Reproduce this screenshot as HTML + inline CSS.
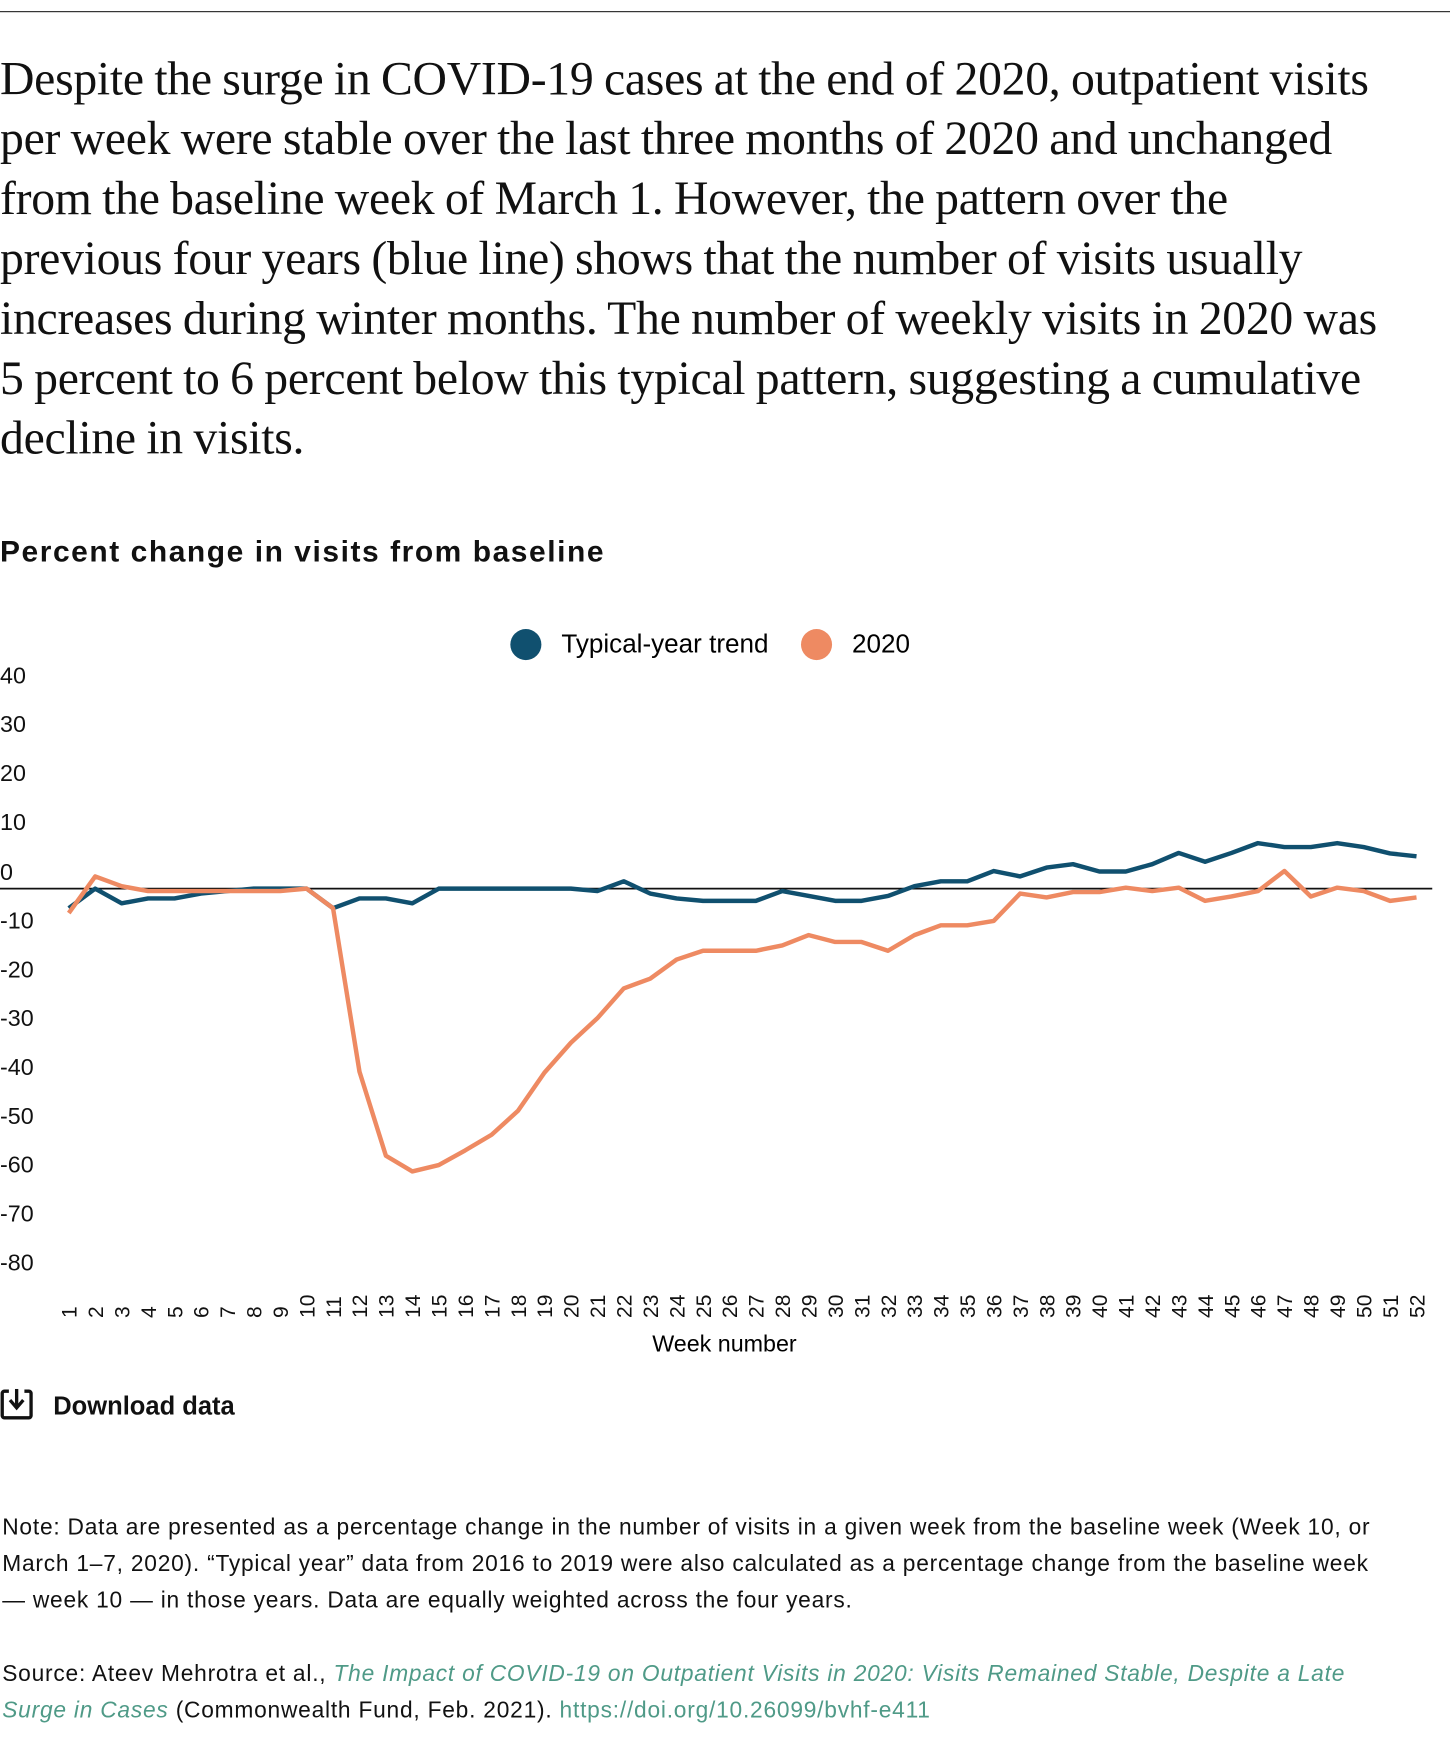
<!DOCTYPE html>
<html><head><meta charset="utf-8"><style>
html,body{margin:0;padding:0;background:#fff;}
#w{width:1307px;height:1568px;transform:scale(1.10941);transform-origin:0 0;position:relative;overflow:hidden;font-family:"Liberation Sans",sans-serif;color:#111;}
.p{position:absolute;left:0;font-family:"Liberation Serif",serif;font-size:43px;letter-spacing:-0.25px;word-spacing:-1px;white-space:nowrap;line-height:54px;}
.t{position:absolute;white-space:nowrap;}
.n{font-size:20.5px;line-height:33px;letter-spacing:0.7px;}
.lk{color:#4f9a87;}
</style></head><body><div id="w">
<div style="position:absolute;left:0;top:10px;width:1307px;height:1px;background:#222"></div>
<div class="p" style="top:45px">Despite the surge in COVID-19 cases at the end of 2020, outpatient visits<br>per week were stable over the last three months of 2020 and unchanged<br>from the baseline week of March 1. However, the pattern over the<br>previous four years (blue line) shows that the number of visits usually<br>increases during winter months. The number of weekly visits in 2020 was<br>5 percent to 6 percent below this typical pattern, suggesting a cumulative<br>decline in visits.</div>
<div class="t" style="left:0;top:482px;font-size:27px;font-weight:bold;letter-spacing:1.4px">Percent change in visits from baseline</div>
<svg style="position:absolute;left:0;top:0" width="1307" height="1568">
<circle cx="474" cy="581" r="14" fill="#10506f"/><text x="506" y="588" font-size="23.5" font-family="Liberation Sans">Typical-year trend</text>
<circle cx="736" cy="581" r="14" fill="#ee8a62"/><text x="768" y="588" font-size="23.5" font-family="Liberation Sans">2020</text>
<g font-size="21" font-family="Liberation Sans" fill="#111">
<text x="0" y="616">40</text><text x="0" y="660">30</text><text x="0" y="704">20</text><text x="0" y="748">10</text><text x="0" y="793">0</text>
<text x="0" y="837">-10</text><text x="0" y="881">-20</text><text x="0" y="925">-30</text><text x="0" y="969">-40</text><text x="0" y="1013">-50</text><text x="0" y="1057">-60</text><text x="0" y="1101">-70</text><text x="0" y="1145">-80</text>
</g>
<line x1="0" y1="801" x2="1291" y2="801" stroke="#111" stroke-width="1.5"/>
<g id="xl" font-size="19" font-family="Liberation Sans" fill="#111"></g>
<text x="653" y="1218" font-size="21" text-anchor="middle" font-family="Liberation Sans">Week number</text>
<polyline id="b" fill="none" stroke="#10506f" stroke-width="4" stroke-linejoin="round"/>
<polyline id="o" fill="none" stroke="#ee8a62" stroke-width="4" stroke-linejoin="round"/>
<rect x="2" y="1254" width="26" height="24" rx="2" fill="none" stroke="#111" stroke-width="3"/>
<rect x="8" y="1250" width="14" height="8" fill="#fff"/>
<line x1="15" y1="1252" x2="15" y2="1268" stroke="#111" stroke-width="3"/>
<polyline points="9,1262 15,1269 21,1262" fill="none" stroke="#111" stroke-width="3"/>
</svg>
<div class="t" style="left:48px;top:1254px;font-size:23px;font-weight:bold">Download data</div>
<div class="t n" style="left:2px;top:1360px">Note: Data are presented as a percentage change in the number of visits in a given week from the baseline week (Week 10, or<br>March 1–7, 2020). “Typical year” data from 2016 to 2019 were also calculated as a percentage change from the baseline week<br>— week 10 — in those years. Data are equally weighted across the four years.</div>
<div class="t n" style="left:2px;top:1492px">Source: Ateev Mehrotra et al., <i class="lk">The Impact of COVID-19 on Outpatient Visits in 2020: Visits Remained Stable, Despite a Late</i><br><i class="lk">Surge in Cases</i> (Commonwealth Fund, Feb. 2021). <span class="lk">https://doi.org/10.26099/bvhf-e411</span></div>
</div>
<script>
var b=[-4,0,-3,-2,-2,-1,-0.5,0,0,0,-4,-2,-2,-3,0,0,0,0,0,0,-0.5,1.5,-1,-2,-2.5,-2.5,-2.5,-0.5,-1.5,-2.5,-2.5,-1.5,0.5,1.5,1.5,3.6,2.5,4.3,5,3.5,3.5,5,7.3,5.5,7.3,9.3,8.5,8.5,9.3,8.5,7.2,6.6];
var o=[-5,2.5,0.5,-0.5,-0.5,-0.5,-0.5,-0.5,-0.5,0,-4,-37.4,-54.6,-57.8,-56.5,-53.5,-50.3,-45.4,-37.6,-31.5,-26.5,-20.4,-18.4,-14.5,-12.7,-12.7,-12.7,-11.6,-9.5,-10.9,-10.9,-12.7,-9.5,-7.5,-7.5,-6.6,-1,-1.8,-0.7,-0.7,0.2,-0.5,0.2,-2.5,-1.6,-0.5,3.6,-1.6,0.2,-0.5,-2.5,-1.8];
function X(i){return 62+i*23.82}function Y(v){return 801-v*4.41}
document.getElementById('b').setAttribute('points',b.map(function(v,i){return X(i)+','+Y(v)}).join(' '));
document.getElementById('o').setAttribute('points',o.map(function(v,i){return X(i)+','+Y(v)}).join(' '));
var g=document.getElementById('xl'),s='';
for(var i=0;i<52;i++){var x=X(i)+7;s+='<text transform="translate('+x+',1188) rotate(-90)" text-anchor="start">'+(i+1)+'</text>';}
g.innerHTML=s;
</script>
</body></html>
